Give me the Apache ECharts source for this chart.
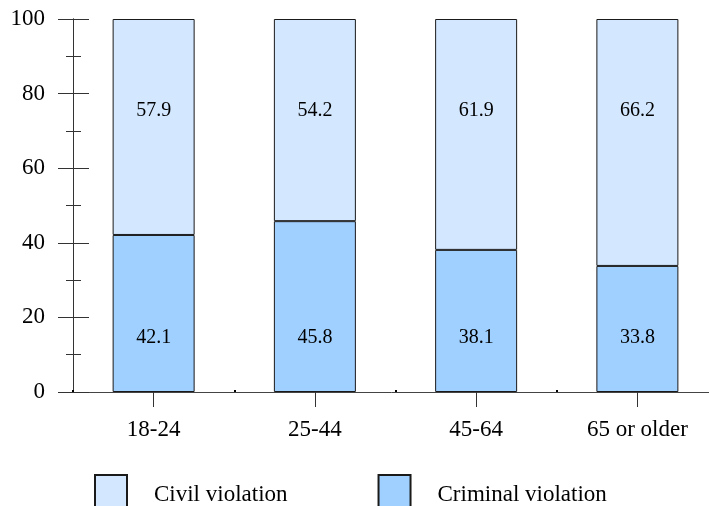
<!DOCTYPE html>
<html>
<head>
<meta charset="utf-8">
<script src="https://cdn.jsdelivr.net/npm/echarts@6/dist/echarts.min.js"></script>
<style>html,body{margin:0;padding:0;background:#fff;}#c{width:709px;height:506px;}</style>
</head>
<body>
<div id="c"></div>
<script>
const categories = ['18-24', '25-44', '45-64', '65 or older'];
const criminal = [42.1, 45.8, 38.1, 33.8];
const civil = [57.9, 54.2, 61.9, 66.2];
const yTicks = { min: 0, max: 100, interval: 20 };

const FONT = '"Liberation Serif", "Times New Roman", serif';
const chart = echarts.init(document.getElementById('c'));
const yBase = {
  type: 'value', min: yTicks.min, max: yTicks.max, interval: yTicks.interval,
  axisLine: { show: true, lineStyle: { color: '#333', width: 1 } },
  splitLine: { show: false },
  minorTick: { show: true, splitNumber: 2, length: 7, lineStyle: { color: '#333' } },
  axisTick: { show: true, length: 15, lineStyle: { color: '#333' } }
};
chart.setOption({
  animation: false,
  grid: { left: 73, top: 19, width: 645, height: 373, containLabel: false, outerBoundsMode: 'none' },
  xAxis: [{
    type: 'category', data: categories,
    axisLine: { show: true, lineStyle: { color: '#444', width: 1 } },
    axisTick: { show: true, alignWithLabel: true, length: 15, lineStyle: { color: '#333' } },
    axisLabel: { color: '#000', fontFamily: FONT, fontSize: 23, margin: 26 }
  }, {
    type: 'category', data: categories, position: 'bottom',
    axisLine: { show: false },
    axisTick: { show: true, inside: true, length: 2, lineStyle: { color: '#000', width: 2 } },
    axisLabel: { show: false }
  }],
  yAxis: [
    Object.assign({}, yBase, {
      axisLabel: { color: '#000', fontFamily: FONT, fontSize: 23, margin: 28 }
    }),
    Object.assign({}, yBase, {
      position: 'left', offset: 0,
      axisTick: { show: true, inside: true, length: 16, lineStyle: { color: '#333' } },
      minorTick: { show: true, splitNumber: 2, length: 8, lineStyle: { color: '#333' } },
      axisLabel: { show: false }
    })
  ],
  legend: {
    left: 94, top: 474, padding: 0, itemWidth: 32, itemHeight: 40, itemGap: 90,
    icon: 'rect',
    textStyle: { fontFamily: FONT, fontSize: 23, color: '#000', padding: [0, 0, 0, 22] },
    data: ['Civil violation', 'Criminal violation']
  },
  series: [{
    name: 'Criminal violation', type: 'bar', stack: 'a', barWidth: 82,
    data: criminal,
    itemStyle: { color: '#A0D0FF', borderColor: '#1a1a1a', borderWidth: 1 },
    label: { show: true, position: 'insideBottom', distance: 44, color: '#000', fontFamily: FONT, fontSize: 20 }
  }, {
    name: 'Civil violation', type: 'bar', stack: 'a', barWidth: 82,
    data: civil,
    itemStyle: { color: '#D3E8FF', borderColor: '#1a1a1a', borderWidth: 1 },
    label: { show: true, position: 'insideTop', distance: 82, color: '#000', fontFamily: FONT, fontSize: 20 }
  }]
});
</script>
</body>
</html>
